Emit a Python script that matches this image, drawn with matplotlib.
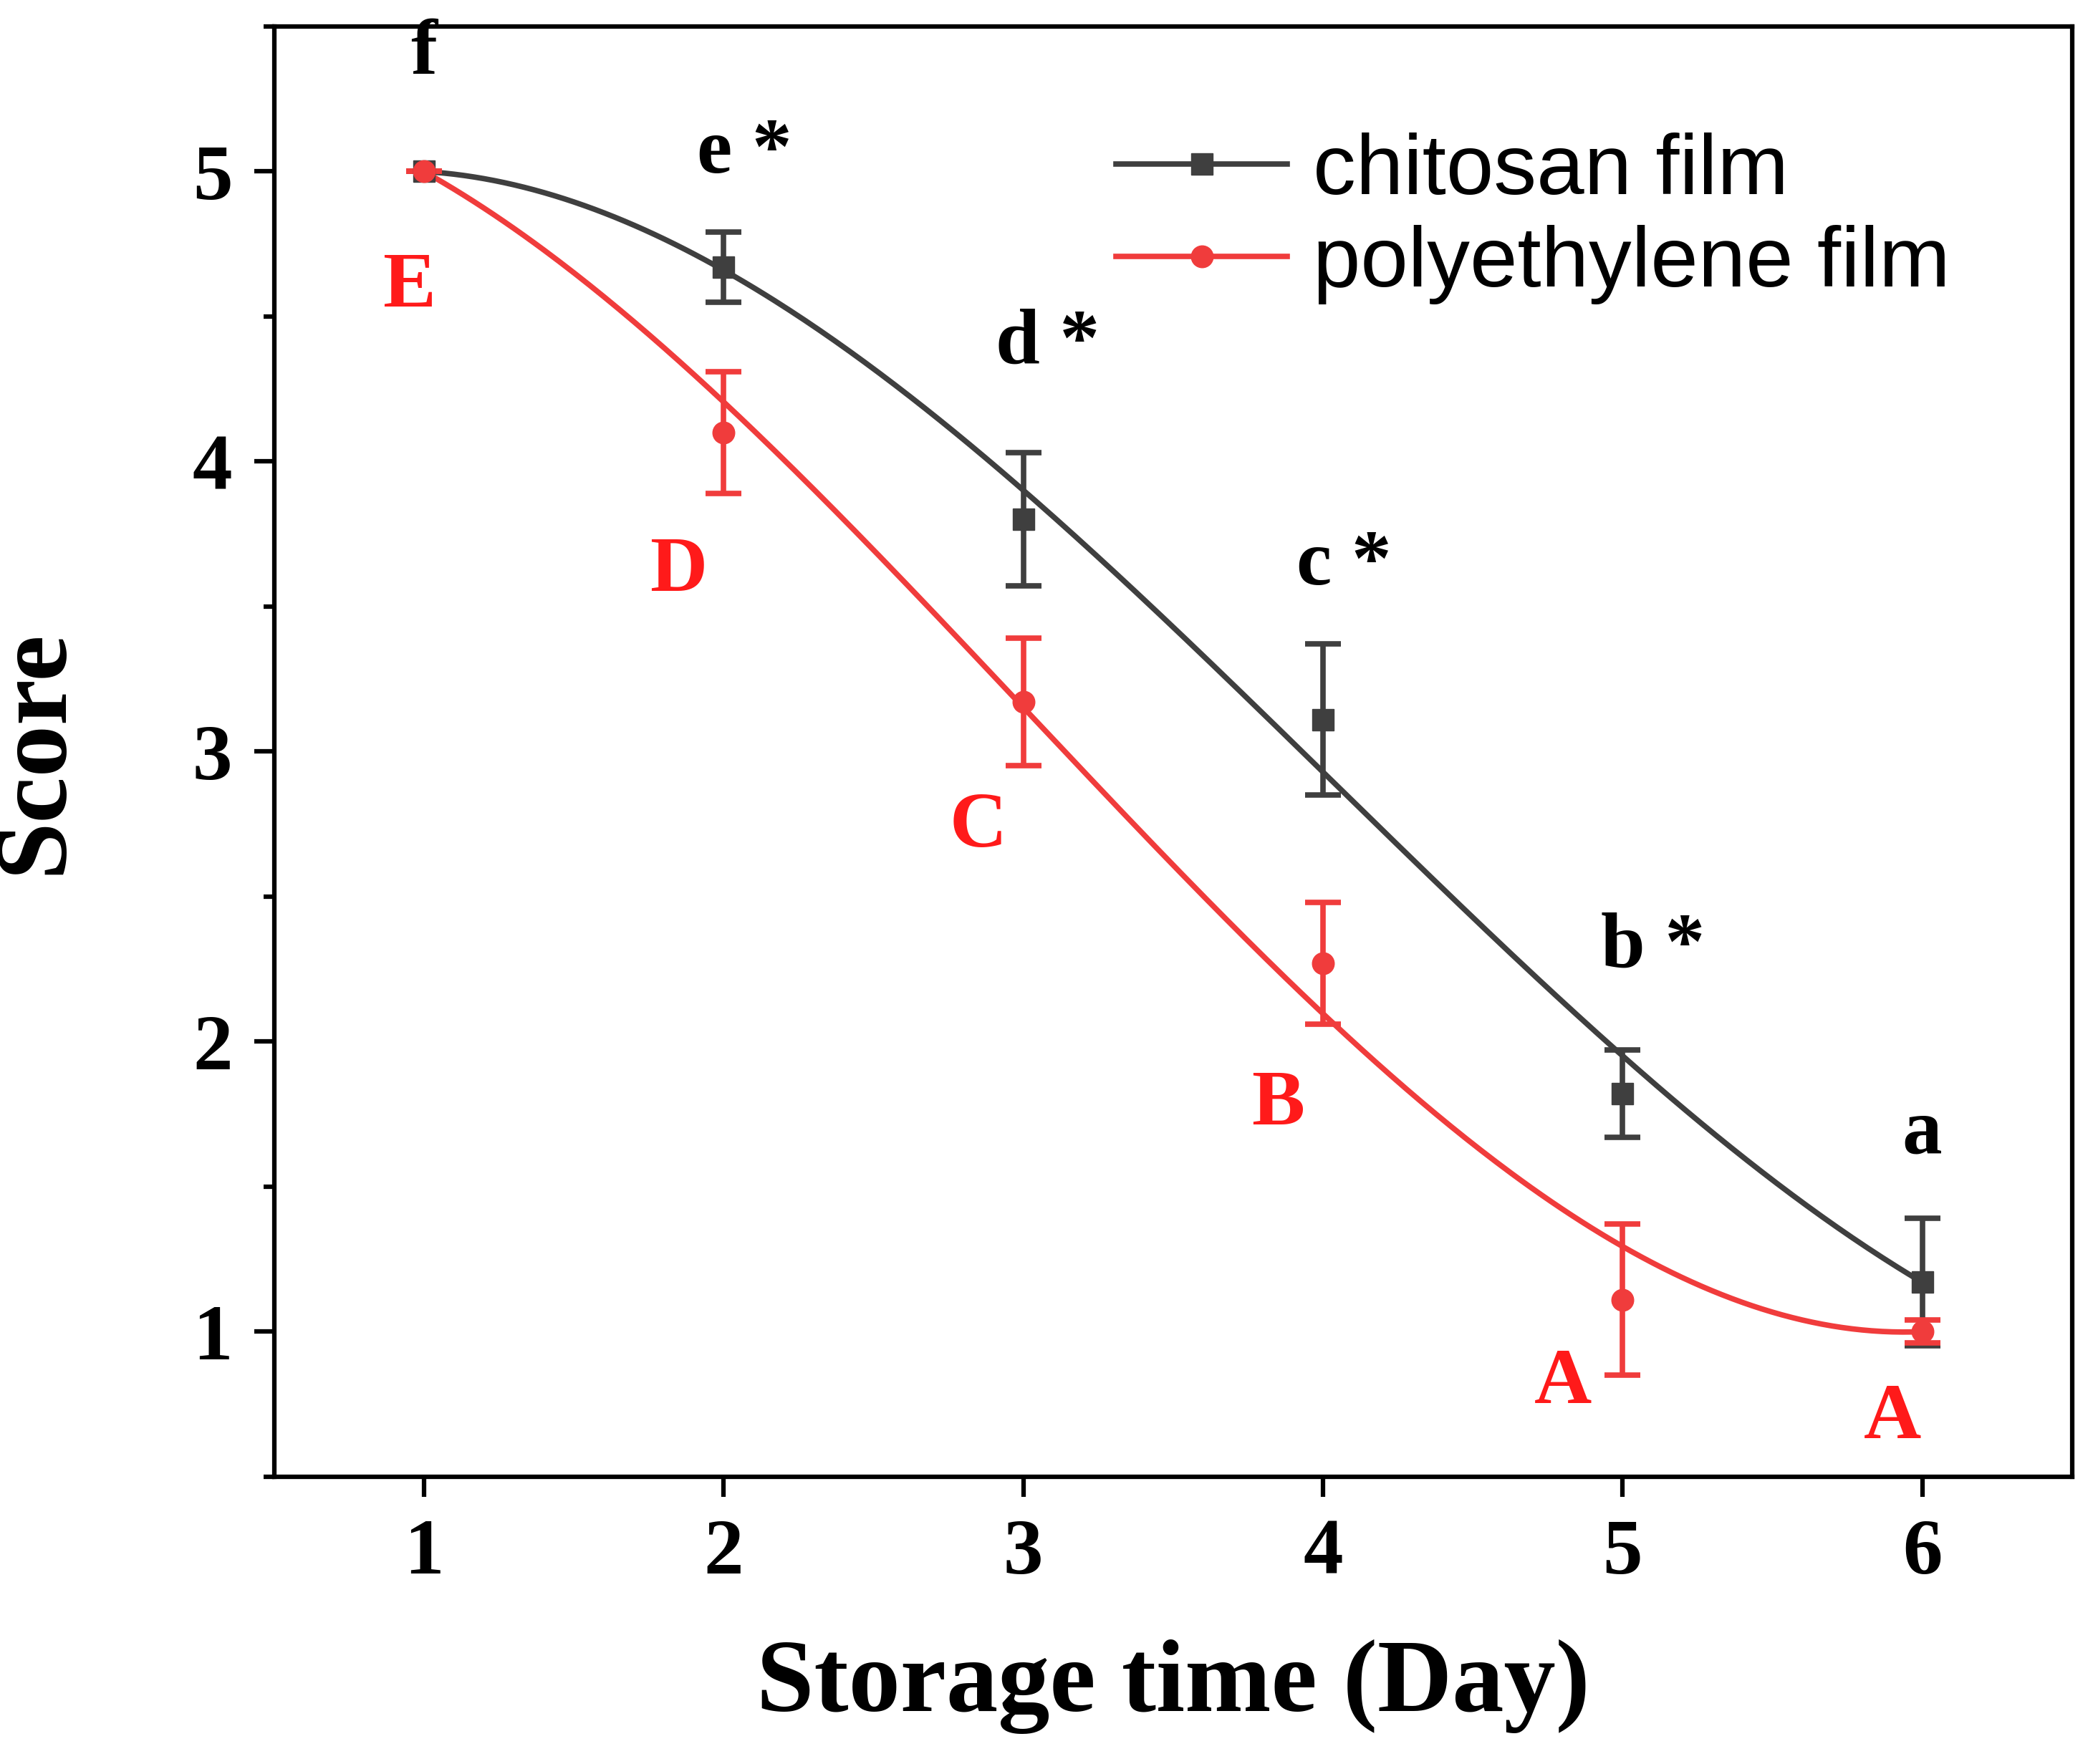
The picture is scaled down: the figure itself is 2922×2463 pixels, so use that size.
import numpy as np
import matplotlib
matplotlib.use("Agg")
import matplotlib.pyplot as plt
from matplotlib.ticker import MultipleLocator

days = [1, 2, 3, 4, 5, 6]
chitosan = [5.0, 4.67, 3.80, 3.11, 1.82, 1.17]
chitosan_err = [0.0, 0.12, 0.23, 0.26, 0.15, 0.22]
poly = [5.0, 4.10, 3.17, 2.27, 1.11, 1.00]
poly_err = [0.0, 0.21, 0.22, 0.21, 0.26, 0.04]
chi_labels = ["f", "e *", "d *", "c *", "b *", "a"]
poly_labels = ["E", "D", "C", "B", "A", "A"]

gray = "#3f3f3f"
red = "#f03c3c"
serif = "Liberation Serif"

fig = plt.figure(figsize=(29.22, 24.63), dpi=100)
ax = fig.add_axes([0.131, 0.163, 0.859, 0.822])

xs = np.linspace(1, 6, 300)
w = [10, 1, 1, 1, 1, 10]
for y, err, col, mk, lab in [(chitosan, chitosan_err, gray, "s", "chitosan film"),
                             (poly, poly_err, red, "o", "polyethylene film")]:
    c = np.polyfit(days, y, 3, w=w)
    ax.plot(xs, np.polyval(c, xs), color=col, lw=5.5)
    ax.errorbar(days, y, yerr=err, fmt=mk, color=col, ms=22, elinewidth=5.5,
                capsize=18, capthick=5.5)
    ax.plot([], [], color=col, marker=mk, ms=22, lw=5.5, label=lab)

chi_pos = [(1.0, 5.28), (2.07, 4.94), (3.08, 4.28), (4.07, 3.52), (5.1, 2.2), (6.0, 1.56)]
for (x, y), t in zip(chi_pos, chi_labels):
    ax.text(x, y, t, ha="center", va="bottom", fontsize=80, fontweight="bold",
            family=serif, color="black")
poly_pos = [(0.95, 4.6), (1.85, 3.62), (2.85, 2.74), (3.85, 1.78), (4.8, 0.82), (5.9, 0.7)]
for (x, y), t in zip(poly_pos, poly_labels):
    ax.text(x, y, t, ha="center", va="center", fontsize=80, fontweight="bold",
            family=serif, color="#ff1a1a")

ax.set_xlim(0.5, 6.5)
ax.set_ylim(0.5, 5.5)
ax.set_xticks(days)
ax.set_yticks([1, 2, 3, 4, 5])
ax.yaxis.set_minor_locator(MultipleLocator(0.5))
for s in ["top", "right", "left", "bottom"]:
    ax.spines[s].set_linewidth(4.5)
ax.tick_params(axis="both", which="major", length=20, width=4.5, direction="out",
               labelsize=80, pad=22)
ax.tick_params(axis="y", which="minor", length=11, width=4.5, direction="out")
for lbl in ax.get_xticklabels() + ax.get_yticklabels():
    lbl.set_family(serif)
    lbl.set_fontweight("bold")

ax.set_xlabel("Storage time (Day)", fontsize=104, fontweight="bold", family=serif, labelpad=50)
ax.set_ylabel("Score", fontsize=104, fontweight="bold", family=serif, labelpad=110)

ax.legend(loc="upper right", bbox_to_anchor=(0.975, 0.98), frameon=False,
          prop={"family": "Liberation Sans", "size": 86}, handlelength=2.0,
          handletextpad=0.3, labelspacing=0.15)

fig.savefig("out.png", dpi=100)
